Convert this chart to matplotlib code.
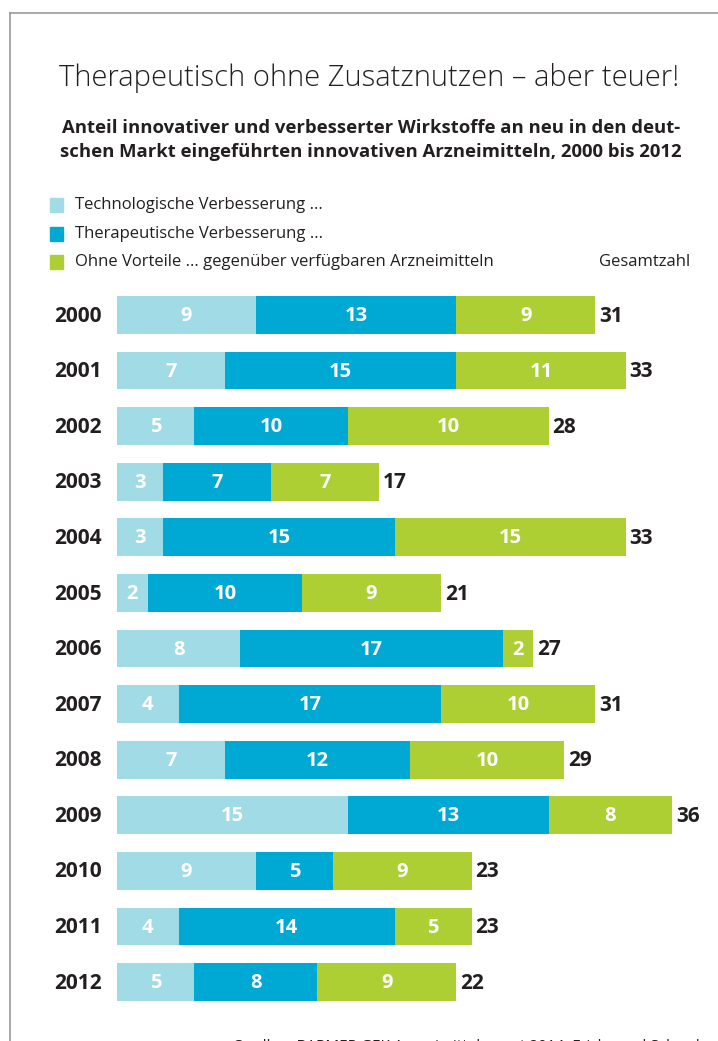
import matplotlib.pyplot as plt
from matplotlib.patches import Rectangle
from matplotlib.lines import Line2D

years = ["2000", "2001", "2002", "2003", "2004", "2005", "2006",
         "2007", "2008", "2009", "2010", "2011", "2012"]
technologisch = [9, 7, 5, 3, 3, 2, 8, 4, 7, 15, 9, 4, 5]
therapeutisch = [13, 15, 10, 7, 15, 10, 17, 17, 12, 13, 5, 14, 8]
ohne_vorteile = [9, 11, 10, 7, 15, 9, 2, 10, 10, 8, 9, 5, 9]
# Gesamtzahl as printed (2002 is printed as 28 and the bar is drawn to 28)
gesamt = [31, 33, 28, 17, 33, 21, 27, 31, 29, 36, 23, 23, 22]
series_labels = ["Technologische Verbesserung ...",
                 "Therapeutische Verbesserung ...",
                 "Ohne Vorteile ... gegenüber verfügbaren Arzneimitteln"]

colors = ["#a0dbe6", "#00a9d4", "#aecf33"]
dark = "#231f20"
plt.rcParams["font.family"] = ["Open Sans", "DejaVu Sans"]

W, H = 718, 1041
fig = plt.figure(figsize=(W / 100, H / 100), dpi=100)

# bar axes, positioned so one unit is ~15.4 px
px_unit = 15.42
x0 = 117
y_top, y_bot = 315 - 0.5 * 55.6, 982 + 0.5 * 55.6
xmax = 40
ax = fig.add_axes([x0 / W, 1 - y_bot / H, xmax * px_unit / W, (y_bot - y_top) / H])
ax.set_xlim(0, xmax)
ax.set_ylim(12.5, -0.5)
ax.axis("off")

ypos = list(range(len(years)))
first = technologisch
second = [a + b for a, b in zip(technologisch, therapeutisch)]
segments = [
    ([0] * len(years), technologisch, technologisch),
    (first, therapeutisch, therapeutisch),
    (second, [g - s for g, s in zip(gesamt, second)], ohne_vorteile),
]
for (lefts, widths, labels), col in zip(segments, colors):
    ax.barh(ypos, widths, left=lefts, height=0.68, color=col, linewidth=0)
    for i in ypos:
        ax.text(lefts[i] + widths[i] / 2, i + 0.02, str(labels[i]),
                ha="center", va="center", color="white",
                fontsize=14.5, fontweight="bold")

for i, (yr, tot) in enumerate(zip(years, gesamt)):
    ax.text(tot + 0.25, i + 0.02, str(tot), ha="left", va="center",
            color=dark, fontsize=15, fontweight="bold")
    ax.text(-2.53, i + 0.02, yr, ha="center", va="center",
            color=dark, fontsize=15, fontweight="bold")

# titles
fig.text(369 / W, 1 - 78 / H, "Therapeutisch ohne Zusatznutzen – aber teuer!",
         ha="center", va="center", fontsize=21, color=dark, fontweight="light")
fig.text(371 / W, 1 - 140 / H,
         "Anteil innovativer und verbesserter Wirkstoffe an neu in den deut-\n"
         "schen Markt eingeführten innovativen Arzneimitteln, 2000 bis 2012",
         ha="center", va="center", fontsize=13.3, color=dark, fontweight="bold",
         linespacing=1.38)

# legend
for k, (lab, col) in enumerate(zip(series_labels, colors)):
    yc = 205 + k * 28.5
    fig.patches.append(Rectangle((50 / W, 1 - (yc + 7) / H), 13 / W, 14 / H,
                                 transform=fig.transFigure, color=col))
    fig.text(75 / W, 1 - yc / H, lab, ha="left", va="center",
             fontsize=12, color=dark)
fig.text(690 / W, 1 - 262 / H, "Gesamtzahl", ha="right", va="center",
         fontsize=12, color=dark)

# source line, cut off at the bottom edge like in the original
fig.text(233 / W, 1 - 1047 / H,
         "Quellen: BARMER GEK Arzneimittelreport 2014, Fricke und Schwabe 2013",
         ha="left", va="center", fontsize=11, color=dark)

# frame
fig.lines.append(Line2D([10 / W, 1], [1 - 13 / H, 1 - 13 / H],
                        transform=fig.transFigure, color="#9a9a9a", lw=1.2))
fig.lines.append(Line2D([10 / W, 10 / W], [0, 1 - 13 / H],
                        transform=fig.transFigure, color="#9a9a9a", lw=1.2))

fig.savefig("out.png", dpi=100)
